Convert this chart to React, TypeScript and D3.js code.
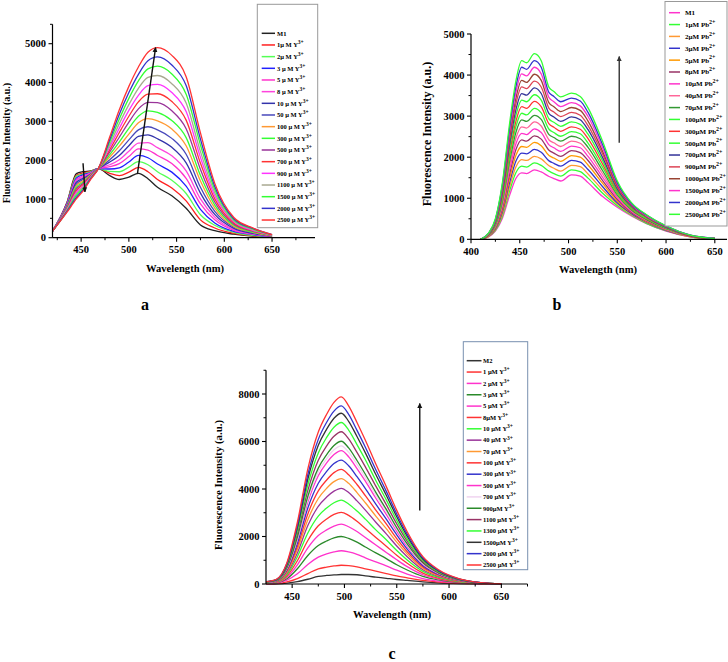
import React from 'react';
import * as d3 from 'd3';

const FONT = "'Liberation Serif', 'Times New Roman', serif";

// ---------------- Panel a data ----------------
const waveA = [420, 435, 445, 452, 460, 468, 480, 490, 500, 510, 520, 530, 545, 560, 575, 590, 610, 630, 650];
const seriesA = [
  [170, 900, 1650, 1700, 1720, 1780, 1600, 1500, 1560, 1660, 1520, 1300, 1080, 760, 330, 180, 90, 40, 10],
  [170, 890, 1610, 1670, 1710, 1780, 1660, 1600, 1690, 1810, 1700, 1500, 1280, 950, 460, 250, 110, 50, 10],
  [170, 870, 1580, 1640, 1700, 1780, 1710, 1700, 1820, 1960, 1880, 1700, 1480, 1140, 590, 320, 140, 60, 20],
  [170, 860, 1540, 1620, 1680, 1780, 1770, 1800, 1950, 2120, 2060, 1900, 1690, 1330, 730, 380, 160, 80, 20],
  [170, 840, 1500, 1590, 1670, 1780, 1830, 1910, 2090, 2290, 2260, 2120, 1910, 1530, 870, 460, 190, 90, 30],
  [170, 830, 1470, 1560, 1660, 1780, 1880, 2010, 2230, 2440, 2450, 2320, 2110, 1720, 1000, 530, 210, 100, 30],
  [170, 810, 1430, 1530, 1640, 1780, 1950, 2120, 2370, 2610, 2650, 2550, 2330, 1930, 1150, 600, 240, 110, 30],
  [170, 800, 1380, 1500, 1630, 1780, 2010, 2240, 2520, 2780, 2860, 2780, 2560, 2150, 1300, 680, 270, 130, 40],
  [170, 780, 1340, 1460, 1620, 1780, 2080, 2360, 2670, 2960, 3070, 3010, 2800, 2370, 1460, 760, 290, 140, 40],
  [170, 770, 1300, 1430, 1600, 1780, 2140, 2470, 2820, 3130, 3270, 3230, 3020, 2580, 1600, 840, 320, 150, 50],
  [170, 750, 1260, 1400, 1590, 1780, 2210, 2590, 2980, 3320, 3490, 3480, 3270, 2810, 1760, 920, 350, 170, 50],
  [170, 730, 1210, 1370, 1570, 1780, 2270, 2710, 3130, 3500, 3700, 3710, 3510, 3030, 1920, 1000, 380, 180, 60],
  [170, 720, 1170, 1330, 1560, 1780, 2340, 2820, 3280, 3670, 3920, 3950, 3740, 3250, 2070, 1080, 410, 190, 60],
  [170, 700, 1130, 1300, 1540, 1780, 2400, 2940, 3430, 3850, 4130, 4180, 3970, 3470, 2220, 1160, 430, 210, 70],
  [170, 680, 1090, 1270, 1530, 1780, 2470, 3060, 3590, 4040, 4350, 4420, 4220, 3700, 2390, 1240, 460, 220, 70],
  [170, 670, 1040, 1230, 1520, 1780, 2530, 3180, 3740, 4210, 4560, 4660, 4450, 3920, 2540, 1320, 490, 240, 80],
  [170, 650, 1000, 1200, 1500, 1780, 2600, 3300, 3900, 4400, 4780, 4900, 4700, 4150, 2700, 1400, 520, 250, 80],
];
const labelsA = ['M1', '1µ M Y', '2µ M Y', '3 µ M Y', '5 µ M Y', '8 µ M Y', '10 µ M Y', '50 µ M Y', '100 µ M Y', '300 µ M Y', '500 µ M Y', '700 µ M Y', '900 µ M Y', '1100 µ M  Y', '1500 µ M Y', '2000 µ M Y', '2500 µ M Y'];
const colorsA = ['#222222', '#ff2020', '#55ff55', '#2020ff', '#ff33cc', '#ff44dd', '#3333aa', '#4848bb', '#ff9933', '#33ff33', '#993399', '#ff3333', '#ff33ff', '#a8a890', '#33ff33', '#3333cc', '#ff3333'];
const xTicksA = [450, 500, 550, 600, 650];
const xMinorA = [425, 475, 525, 575, 625, 675];
const yTicksA = [0, 1000, 2000, 3000, 4000, 5000];
const yMinorA = [500, 1500, 2500, 3500, 4500, 5500];

// ---------------- Panel b data ----------------
const waveB = [410, 418, 425, 432, 440, 446, 452, 457, 465, 472, 480, 485, 492, 503, 512, 520, 535, 550, 565, 580, 600, 625, 650];
const seriesB = [
  [0, 60, 200, 500, 1100, 1480, 1620, 1600, 1690, 1640, 1530, 1480, 1420, 1570, 1540, 1380, 1040, 780, 560, 380, 200, 60, 10],
  [0, 70, 220, 550, 1210, 1620, 1780, 1760, 1860, 1800, 1660, 1600, 1540, 1690, 1650, 1490, 1120, 820, 580, 390, 210, 60, 10],
  [0, 70, 240, 600, 1310, 1760, 1940, 1920, 2020, 1960, 1790, 1730, 1660, 1800, 1770, 1590, 1200, 860, 600, 410, 220, 60, 10],
  [0, 80, 250, 650, 1420, 1900, 2100, 2080, 2190, 2120, 1910, 1850, 1780, 1920, 1880, 1700, 1280, 890, 620, 420, 220, 70, 10],
  [0, 80, 270, 700, 1520, 2040, 2260, 2240, 2360, 2280, 2040, 1980, 1900, 2040, 2000, 1810, 1360, 930, 640, 430, 230, 70, 10],
  [0, 90, 290, 750, 1630, 2180, 2420, 2390, 2520, 2440, 2170, 2100, 2020, 2160, 2110, 1920, 1430, 970, 650, 450, 240, 70, 10],
  [0, 90, 310, 800, 1740, 2320, 2580, 2550, 2690, 2600, 2300, 2230, 2140, 2270, 2230, 2020, 1510, 1010, 670, 460, 250, 70, 10],
  [0, 100, 320, 850, 1840, 2460, 2740, 2710, 2860, 2760, 2420, 2350, 2260, 2390, 2340, 2130, 1590, 1040, 690, 470, 250, 80, 10],
  [0, 100, 340, 900, 1950, 2600, 2910, 2870, 3020, 2920, 2550, 2480, 2390, 2510, 2450, 2240, 1670, 1080, 710, 480, 260, 80, 10],
  [0, 110, 360, 950, 2050, 2740, 3070, 3030, 3190, 3080, 2680, 2600, 2510, 2620, 2570, 2340, 1750, 1120, 730, 500, 270, 80, 20],
  [0, 110, 380, 1000, 2160, 2870, 3230, 3190, 3360, 3230, 2810, 2730, 2630, 2740, 2680, 2450, 1830, 1160, 750, 510, 280, 80, 20],
  [0, 120, 390, 1050, 2270, 3010, 3390, 3350, 3520, 3390, 2930, 2850, 2750, 2860, 2800, 2560, 1910, 1190, 770, 520, 280, 90, 20],
  [0, 120, 410, 1100, 2370, 3150, 3550, 3510, 3690, 3550, 3060, 2980, 2870, 2980, 2910, 2670, 1990, 1230, 790, 540, 290, 90, 20],
  [0, 130, 430, 1150, 2480, 3290, 3710, 3670, 3850, 3710, 3190, 3100, 2990, 3090, 3020, 2770, 2070, 1270, 810, 550, 300, 90, 20],
  [0, 130, 450, 1200, 2580, 3430, 3870, 3820, 4020, 3870, 3320, 3230, 3110, 3210, 3140, 2880, 2140, 1310, 820, 560, 310, 90, 20],
  [0, 140, 470, 1250, 2690, 3570, 4030, 3980, 4190, 4030, 3450, 3350, 3230, 3330, 3250, 2990, 2220, 1350, 840, 570, 320, 100, 20],
  [0, 150, 480, 1300, 2790, 3710, 4190, 4140, 4350, 4190, 3570, 3480, 3350, 3440, 3370, 3090, 2300, 1380, 860, 590, 320, 100, 20],
  [0, 150, 500, 1350, 2900, 3850, 4350, 4300, 4520, 4350, 3700, 3600, 3470, 3560, 3480, 3200, 2380, 1420, 880, 600, 330, 100, 20],
];
const labelsB = ['M1', '1µM Pb', '2µM Pb', '3µM Pb', '5µM Pb', '8µM Pb', '10µM Pb', '40µM Pb', '70µM Pb', '100µM Pb', '300µM Pb', '500µM Pb', '700µM Pb', '900µM Pb', '1000µM Pb', '1500µM Pb', '2000µM Pb', '2500µM Pb'];
const colorsB = ['#ff33cc', '#33ff33', '#ff9933', '#3333cc', '#ff9900', '#993366', '#ff33cc', '#ff6699', '#339933', '#33ff33', '#ff3333', '#33ff33', '#333399', '#dd4455', '#994433', '#ff33cc', '#3333cc', '#33ff33'];
const xTicksB = [400, 450, 500, 550, 600, 650];
const xMinorB = [425, 475, 525, 575, 625];
const yTicksB = [0, 1000, 2000, 3000, 4000, 5000];
const yMinorB = [500, 1500, 2500, 3500, 4500];

// ---------------- Panel c data ----------------
const waveC = [425, 435, 445, 455, 465, 475, 483, 490, 497, 504, 512, 520, 530, 540, 550, 560, 575, 590, 610, 630, 650];
const seriesC = [
  [0, 10, 40, 100, 200, 320, 360, 380, 400, 400, 390, 340, 290, 240, 190, 150, 90, 50, 20, 5, 0],
  [10, 20, 90, 230, 440, 640, 710, 760, 790, 770, 720, 640, 540, 440, 340, 260, 150, 80, 30, 10, 0],
  [10, 40, 160, 430, 820, 1130, 1270, 1350, 1400, 1350, 1250, 1100, 930, 760, 580, 420, 230, 120, 50, 10, 0],
  [20, 50, 220, 640, 1200, 1620, 1810, 1940, 2000, 1920, 1760, 1560, 1310, 1070, 810, 590, 320, 170, 60, 20, 0],
  [30, 60, 280, 810, 1520, 2040, 2280, 2440, 2520, 2410, 2210, 1960, 1640, 1330, 1020, 730, 390, 210, 80, 20, 0],
  [40, 80, 340, 980, 1830, 2450, 2740, 2930, 3020, 2890, 2640, 2340, 1960, 1590, 1210, 870, 460, 240, 90, 20, 0],
  [40, 90, 400, 1150, 2150, 2860, 3200, 3420, 3530, 3370, 3070, 2730, 2280, 1860, 1410, 1010, 530, 280, 100, 30, 0],
  [50, 100, 460, 1310, 2460, 3270, 3660, 3910, 4030, 3850, 3500, 3110, 2600, 2110, 1600, 1150, 600, 320, 120, 30, 10],
  [50, 110, 500, 1450, 2710, 3600, 4030, 4310, 4440, 4240, 3850, 3420, 2860, 2330, 1760, 1260, 660, 350, 130, 30, 10],
  [60, 120, 550, 1580, 2950, 3920, 4380, 4690, 4830, 4600, 4190, 3720, 3110, 2530, 1910, 1360, 720, 380, 140, 40, 10],
  [60, 130, 590, 1710, 3200, 4240, 4740, 5070, 5220, 4980, 4520, 4020, 3360, 2730, 2070, 1470, 770, 400, 150, 40, 10],
  [70, 140, 640, 1850, 3450, 4560, 5100, 5450, 5620, 5360, 4860, 4330, 3610, 2930, 2220, 1580, 830, 430, 160, 40, 10],
  [70, 150, 660, 1910, 3570, 4730, 5280, 5650, 5820, 5550, 5040, 4480, 3740, 3040, 2300, 1640, 860, 450, 170, 50, 10],
  [80, 150, 690, 1980, 3690, 4880, 5450, 5830, 6010, 5730, 5200, 4620, 3860, 3140, 2370, 1690, 890, 460, 170, 50, 10],
  [80, 160, 730, 2110, 3940, 5210, 5820, 6220, 6410, 6110, 5540, 4930, 4120, 3340, 2530, 1800, 940, 490, 180, 50, 10],
  [90, 170, 780, 2240, 4180, 5520, 6170, 6600, 6800, 6480, 5870, 5230, 4360, 3540, 2680, 1900, 1000, 520, 190, 50, 10],
  [90, 180, 820, 2370, 4420, 5840, 6520, 6980, 7190, 6850, 6210, 5520, 4610, 3740, 2830, 2010, 1050, 550, 200, 60, 10],
  [100, 190, 860, 2470, 4610, 6090, 6810, 7280, 7500, 7140, 6470, 5760, 4810, 3900, 2950, 2100, 1100, 570, 210, 60, 10],
  [100, 200, 900, 2600, 4850, 6400, 7150, 7650, 7880, 7500, 6800, 6050, 5050, 4100, 3100, 2200, 1150, 600, 220, 60, 10],
];
const labelsC = ['M2', '1 µM Y', '2 µM Y', '3 µM Y', '5 µM Y', '8µM Y', '10 µM Y', '40 µM Y', '70 µM Y', '100 µM Y', '300 µM Y', '500 µM Y', '700 µM Y', '900µM Y', '1100 µM Y', '1300 µM Y', '1500µM Y', '2000 µM Y', '2500 µM Y'];
const colorsC = ['#333333', '#ff3333', '#ff33cc', '#2a8a2a', '#ff33cc', '#ff3333', '#33ff33', '#993399', '#ff9933', '#ff3333', '#3333cc', '#ff33cc', '#f0d4f0', '#2a8a2a', '#993366', '#33ff33', '#333333', '#3333cc', '#ff3333'];
const xTicksC = [450, 500, 550, 600, 650];
const xMinorC = [475, 525, 575, 625, 675];
const yTicksC = [0, 2000, 4000, 6000, 8000];
const yMinorC = [1000, 3000, 5000, 7000, 9000];

// arrows (data coordinates): [x1, y1, x2, y2]
const arrowsA = [[509, 1650, 528, 4900], [452, 1920, 454, 1180]];
const arrowsB = [[552, 2350, 552, 4450]];
const arrowsC = [[572, 3100, 572, 7600]];

type PanelProps = {
  id: string;
  xDomain: number[]; xRange: number[];
  yDomain: number[]; yRange: number[];
  xTicks: number[]; xMinor: number[]; yTicks: number[]; yMinor: number[];
  waves: number[]; series: number[][]; colors: string[];
  labels: string[]; sup: string;
  legend: { x: number; y: number; w: number; h: number; y0: number; dy: number; lx1: number; lx2: number; tx: number; fs: number; stroke: string };
  arrows: number[][]; arrowColor: string;
  xTitle: { x: number; y: number };
  yTitle: { x: number; y: number; fs: number };
  letter: { x: number; y: number; t: string };
};

function Panel(p: PanelProps) {
  const x = d3.scaleLinear().domain(p.xDomain).range(p.xRange);
  const y = d3.scaleLinear().domain(p.yDomain).range(p.yRange);
  const line = d3.line<number>().x((_, i) => x(p.waves[i])).y((d) => y(d)).curve(d3.curveMonotoneX);
  const y0 = p.yRange[0];
  const x0 = p.xRange[0];
  const tickFs = 10.5;
  const L = p.legend;
  return (
    <g>
      <defs>
        <marker id={'ah' + p.id} viewBox="0 0 10 10" refX="9" refY="5" markerWidth="5" markerHeight="6" orient="auto" markerUnits="userSpaceOnUse">
          <path d="M0,0 L10,5 L0,10 z" fill={p.arrowColor} />
        </marker>
      </defs>
      {p.series.map((s, i) => (
        <path key={i} d={line(s) || ''} fill="none" stroke={p.colors[i]} strokeWidth={1.3} />
      ))}
      {/* axes */}
      <line x1={x0} x2={p.xRange[1]} y1={y0} y2={y0} stroke="#000" strokeWidth={1.2} />
      <line x1={x0} x2={x0} y1={y0} y2={p.yRange[1]} stroke="#000" strokeWidth={1.2} />
      {p.xTicks.map((t) => (
        <g key={'xt' + t}>
          <line x1={x(t)} x2={x(t)} y1={y0} y2={y0 + 4} stroke="#000" strokeWidth={1.1} />
          <text x={x(t)} y={y0 + 15.5} textAnchor="middle" fontFamily={FONT} fontWeight="bold" fontSize={tickFs}>{t}</text>
        </g>
      ))}
      {p.xMinor.filter((t) => t <= p.xDomain[1]).map((t) => (
        <line key={'xm' + t} x1={x(t)} x2={x(t)} y1={y0} y2={y0 + 2.5} stroke="#000" strokeWidth={1} />
      ))}
      {p.yTicks.map((t) => (
        <g key={'yt' + t}>
          <line x1={x0 - 4} x2={x0} y1={y(t)} y2={y(t)} stroke="#000" strokeWidth={1.1} />
          <text x={x0 - 6.5} y={y(t)} dy="0.36em" textAnchor="end" fontFamily={FONT} fontWeight="bold" fontSize={tickFs}>{t}</text>
        </g>
      ))}
      {p.yMinor.filter((t) => t <= p.yDomain[1]).map((t) => (
        <line key={'ym' + t} x1={x0 - 2.5} x2={x0} y1={y(t)} y2={y(t)} stroke="#000" strokeWidth={1} />
      ))}
      <text x={p.xTitle.x} y={p.xTitle.y} textAnchor="middle" fontFamily={FONT} fontWeight="bold" fontSize={10.6}>Wavelength (nm)</text>
      <text transform={`translate(${p.yTitle.x},${p.yTitle.y}) rotate(-90)`} textAnchor="middle" dominantBaseline="central" fontFamily={FONT} fontWeight="bold" fontSize={p.yTitle.fs}>Fluorescence Intensity (a.u.)</text>
      <text x={p.letter.x} y={p.letter.y} textAnchor="middle" fontFamily={FONT} fontWeight="bold" fontSize={16}>{p.letter.t}</text>
      {/* arrows */}
      {p.arrows.map((a, i) => (
        <line key={'ar' + i} x1={x(a[0])} y1={y(a[1])} x2={x(a[2])} y2={y(a[3])} stroke={p.arrowColor} strokeWidth={1.4} markerEnd={`url(#ah${p.id})`} />
      ))}
      {/* legend */}
      <rect x={L.x} y={L.y} width={L.w} height={L.h} fill="#fff" stroke={L.stroke} strokeWidth={1} />
      {p.labels.map((lab, i) => {
        const yy = L.y0 + i * L.dy;
        return (
          <g key={'lg' + i}>
            <line x1={L.lx1} x2={L.lx2} y1={yy} y2={yy} stroke={p.colors[i]} strokeWidth={1.5} />
            <text x={L.tx} y={yy} dy="0.35em" fontFamily={FONT} fontWeight="bold" fontSize={L.fs}>
              {lab}
              {i > 0 ? <tspan dy={-L.fs * 0.45} fontSize={L.fs * 0.85}>{p.sup}</tspan> : null}
            </text>
          </g>
        );
      })}
    </g>
  );
}

export default function App() {
  return (
    <svg width={728} height={662} style={{ position: 'absolute', left: 0, top: 0, background: '#fff' }}>
      <rect x={0} y={0} width={728} height={662} fill="#fff" />
      <Panel
        id="a"
        xDomain={[420, 695]} xRange={[52.5, 315]}
        yDomain={[0, 5500]} yRange={[237.7, 24.3]}
        xTicks={xTicksA} xMinor={xMinorA} yTicks={yTicksA} yMinor={yMinorA}
        waves={waveA} series={seriesA} colors={colorsA}
        labels={labelsA} sup="3+"
        legend={{ x: 257.3, y: 4.3, w: 60.4, h: 223.4, y0: 33.3, dy: 11.67, lx1: 261.7, lx2: 275, tx: 277, fs: 6.5, stroke: '#999' }}
        arrows={arrowsA} arrowColor="#111"
        xTitle={{ x: 185, y: 272 }}
        yTitle={{ x: 6.5, y: 143, fs: 10 }}
        letter={{ x: 145, y: 310, t: 'a' }}
      />
      <Panel
        id="b"
        xDomain={[400, 662.5]} xRange={[471, 727]}
        yDomain={[0, 5000]} yRange={[239.3, 34]}
        xTicks={xTicksB} xMinor={xMinorB} yTicks={yTicksB} yMinor={yMinorB}
        waves={waveB} series={seriesB} colors={colorsB}
        labels={labelsB} sup="2+"
        legend={{ x: 665, y: 1.5, w: 62, h: 224.5, y0: 12.7, dy: 11.86, lx1: 669, lx2: 680, tx: 685, fs: 7, stroke: '#999' }}
        arrows={arrowsB} arrowColor="#333"
        xTitle={{ x: 598, y: 273 }}
        yTitle={{ x: 427, y: 134, fs: 12 }}
        letter={{ x: 557, y: 310, t: 'b' }}
      />
      <Panel
        id="c"
        xDomain={[425, 675]} xRange={[266, 527.5]}
        yDomain={[0, 9000]} yRange={[584, 370.25]}
        xTicks={xTicksC} xMinor={xMinorC} yTicks={yTicksC} yMinor={yMinorC}
        waves={waveC} series={seriesC} colors={colorsC}
        labels={labelsC} sup="3+"
        legend={{ x: 463.3, y: 341.7, w: 64.4, h: 228, y0: 360.7, dy: 11.35, lx1: 466.7, lx2: 481.5, tx: 483, fs: 6.5, stroke: '#7890b0' }}
        arrows={arrowsC} arrowColor="#111"
        xTitle={{ x: 392, y: 618 }}
        yTitle={{ x: 218, y: 485, fs: 10.8 }}
        letter={{ x: 392, y: 659, t: 'c' }}
      />
    </svg>
  );
}
